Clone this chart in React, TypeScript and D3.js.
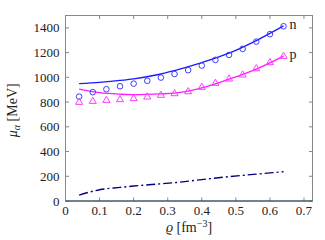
import { useEffect, useRef } from 'react'
import * as d3 from 'd3'

// density grid of the markers [fm^-3]
const rhoPts = [0.04, 0.08, 0.12, 0.16, 0.2, 0.24, 0.28, 0.32, 0.36, 0.4, 0.44, 0.48, 0.52, 0.56, 0.6, 0.64]
const neutronPts = [844, 880, 904, 928, 949, 972, 998, 1027, 1058, 1095, 1141, 1181, 1230, 1289, 1349, 1413]
const protonPts = [798, 806, 814, 820, 828, 841, 855, 868, 884, 920, 952, 987, 1019, 1070, 1119, 1170]

// smooth curves
const rhoLine = [0.04, 0.1, 0.16, 0.2, 0.28, 0.32, 0.4, 0.48, 0.56, 0.64]
const neutronLine = [949, 960, 975, 988, 1027, 1055, 1119, 1195, 1297, 1416]
const protonLine = [904, 876, 864, 860, 866, 872, 915, 985, 1067, 1172]
const alphaLine = [48, 91, 110, 121, 139, 148, 173, 197, 217, 237]

const xTicks = [0, 0.1, 0.2, 0.3, 0.4, 0.5, 0.6, 0.7]
const yTicks = [0, 200, 400, 600, 800, 1000, 1200, 1400]

const W = 325
const H = 240
const M = { left: 65.5, right: 12.5, top: 15.5, bottom: 39 }
const FONT = 'Liberation Serif, Times New Roman, serif'

export default function App() {
  const ref = useRef<SVGSVGElement>(null)

  useEffect(() => {
    if (!ref.current) return
    const svg = d3.select(ref.current)
    svg.selectAll('*').remove()

    const x = d3.scaleLinear().domain([0, 0.725]).range([M.left, W - M.right])
    const y = d3.scaleLinear().domain([0, 1500]).range([H - M.bottom, M.top])

    const x0 = x.range()[0], x1 = x.range()[1]
    const y0 = y.range()[0], y1 = y.range()[1]

    // frame
    svg.append('rect')
      .attr('x', x0).attr('y', y1)
      .attr('width', x1 - x0).attr('height', y0 - y1)
      .attr('fill', 'none').attr('stroke', '#888').attr('stroke-width', 1)

    const tl = 3.5
    xTicks.forEach(t => {
      svg.append('line').attr('x1', x(t)).attr('x2', x(t)).attr('y1', y0).attr('y2', y0 - tl)
        .attr('stroke', '#888')
      svg.append('line').attr('x1', x(t)).attr('x2', x(t)).attr('y1', y1).attr('y2', y1 + tl)
        .attr('stroke', '#888')
      svg.append('text').attr('x', x(t)).attr('y', y0 + 14)
        .attr('text-anchor', 'middle').attr('font-family', FONT).attr('font-size', 13)
        .attr('fill', '#222')
        .text(t === 0 ? '0' : d3.format('.1f')(t))
    })
    yTicks.forEach(t => {
      svg.append('line').attr('x1', x0).attr('x2', x0 + tl).attr('y1', y(t)).attr('y2', y(t))
        .attr('stroke', '#888')
      svg.append('line').attr('x1', x1).attr('x2', x1 - tl).attr('y1', y(t)).attr('y2', y(t))
        .attr('stroke', '#888')
      svg.append('text').attr('x', x0 - 6).attr('y', y(t)).attr('dy', '0.35em')
        .attr('text-anchor', 'end').attr('font-family', FONT).attr('font-size', 13)
        .attr('fill', '#222')
        .text(String(t))
    })

    // zero line
    svg.append('line').attr('x1', x0).attr('x2', x1).attr('y1', y(0)).attr('y2', y(0))
      .attr('stroke', '#1d4452').attr('stroke-width', 1.2)

    const line = d3.line<[number, number]>()
      .x(d => x(d[0])).y(d => y(d[1])).curve(d3.curveMonotoneX)

    svg.append('path')
      .attr('d', line(rhoLine.map((r, i) => [r, neutronLine[i]])))
      .attr('fill', 'none').attr('stroke', '#1a1aff').attr('stroke-width', 1.3)
    svg.append('path')
      .attr('d', line(rhoLine.map((r, i) => [r, protonLine[i]])))
      .attr('fill', 'none').attr('stroke', '#ff1aff').attr('stroke-width', 1.3)
    svg.append('path')
      .attr('d', line(rhoLine.map((r, i) => [r, alphaLine[i]])))
      .attr('fill', 'none').attr('stroke', '#000080').attr('stroke-width', 1.4)
      .attr('stroke-dasharray', '9,3,2,3')

    svg.append('g').selectAll('circle')
      .data(rhoPts.map((r, i) => [r, neutronPts[i]]))
      .enter().append('circle')
      .attr('cx', d => x(d[0])).attr('cy', d => y(d[1])).attr('r', 2.8)
      .attr('fill', 'none').attr('stroke', '#3d3dff').attr('stroke-width', 1)

    const tri = d3.symbol().type(d3.symbolTriangle).size(22)
    svg.append('g').selectAll('path')
      .data(rhoPts.map((r, i) => [r, protonPts[i]]))
      .enter().append('path')
      .attr('d', tri)
      .attr('transform', d => `translate(${x(d[0])},${y(d[1])})`)
      .attr('fill', 'none').attr('stroke', '#ff3dff').attr('stroke-width', 1)

    svg.append('text').attr('x', x(0.64) + 6).attr('y', y(1413) + 3)
      .attr('font-family', FONT).attr('font-size', 14).attr('fill', '#222').text('n')
    svg.append('text').attr('x', x(0.64) + 6).attr('y', y(1170) + 3)
      .attr('font-family', FONT).attr('font-size', 14).attr('fill', '#222').text('p')

    // axis titles
    const xl = svg.append('text').attr('x', (x0 + x1) / 2).attr('y', H - 8)
      .attr('text-anchor', 'middle').attr('font-family', FONT).attr('font-size', 14)
      .attr('fill', '#222')
    xl.append('tspan').attr('font-style', 'italic').text('ϱ')
    xl.append('tspan').text(' [fm')
    xl.append('tspan').attr('dy', -5).attr('font-size', 10).text('−3')
    xl.append('tspan').attr('dy', 5).text(']')

    const yl = svg.append('text')
      .attr('transform', `translate(${17},${(y0 + y1) / 2 + 2}) rotate(-90)`)
      .attr('text-anchor', 'middle').attr('font-family', FONT).attr('font-size', 14)
      .attr('fill', '#222')
    yl.append('tspan').attr('font-style', 'italic').text('μ')
    yl.append('tspan').attr('dy', 3).attr('font-size', 10).attr('font-style', 'italic').text('α')
    yl.append('tspan').attr('dy', -3).text(' [MeV]')
  }, [])

  return (
    <svg ref={ref} width={W} height={H} style={{ position: 'absolute', left: 0, top: 0 }} />
  )
}
